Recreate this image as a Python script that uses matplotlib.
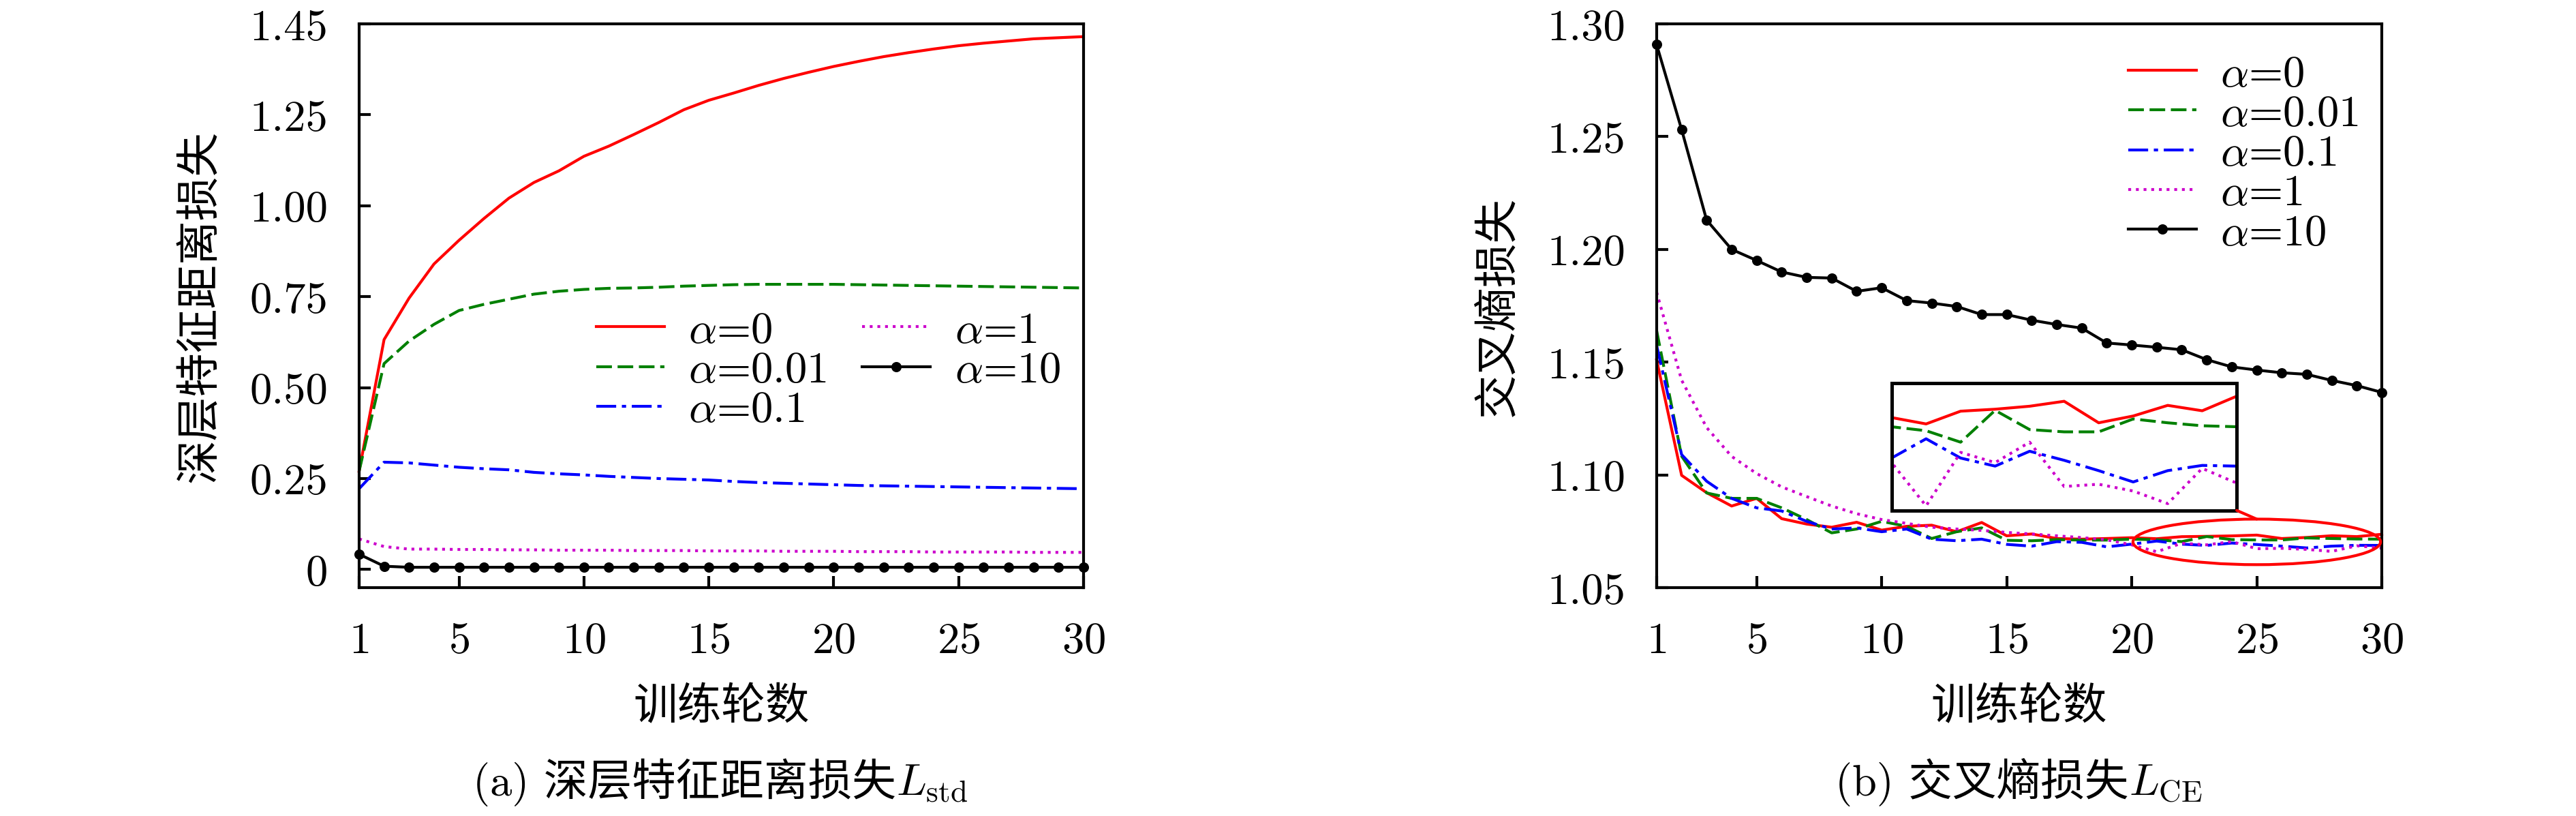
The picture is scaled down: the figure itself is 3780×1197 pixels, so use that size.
import matplotlib
matplotlib.use("Agg")
import matplotlib.pyplot as plt
from matplotlib.patches import Ellipse, ConnectionPatch

plt.rcParams['font.family'] = ['cmr10', 'Noto Sans CJK SC', 'DejaVu Sans']
plt.rcParams['mathtext.fontset'] = 'cm'
plt.rcParams['axes.formatter.use_mathtext'] = True
plt.rcParams['font.size'] = 15.5

epochs = list(range(1, 31))
labels = [r'$\alpha$=0', r'$\alpha$=0.01', r'$\alpha$=0.1', r'$\alpha$=1', r'$\alpha$=10']

# (a) deep feature distance loss
std_a0 = [0.27, 0.632, 0.746, 0.840, 0.905, 0.965, 1.021, 1.064, 1.096, 1.136,
          1.164, 1.196, 1.229, 1.264, 1.290, 1.310, 1.331, 1.350, 1.367, 1.383,
          1.397, 1.410, 1.421, 1.431, 1.440, 1.447, 1.453, 1.459, 1.462, 1.465]
std_a001 = [0.27, 0.566, 0.628, 0.674, 0.712, 0.729, 0.743, 0.757, 0.765, 0.770,
            0.773, 0.774, 0.776, 0.779, 0.781, 0.783, 0.784, 0.784, 0.784, 0.784,
            0.783, 0.782, 0.781, 0.780, 0.779, 0.778, 0.777, 0.776, 0.775, 0.774]
std_a01 = [0.222, 0.295, 0.293, 0.287, 0.281, 0.277, 0.274, 0.267, 0.263, 0.260,
           0.256, 0.253, 0.250, 0.248, 0.246, 0.242, 0.239, 0.237, 0.235, 0.233,
           0.231, 0.230, 0.229, 0.228, 0.227, 0.226, 0.225, 0.224, 0.223, 0.222]
std_a1 = [0.084, 0.063, 0.056, 0.056, 0.055, 0.055, 0.054, 0.054, 0.053, 0.053,
          0.053, 0.052, 0.052, 0.052, 0.051, 0.051, 0.051, 0.050, 0.050, 0.050,
          0.049, 0.049, 0.049, 0.048, 0.048, 0.048, 0.048, 0.047, 0.047, 0.047]
std_a10 = [0.042, 0.009, 0.006, 0.006, 0.006, 0.006, 0.006, 0.006, 0.006, 0.006,
           0.006, 0.006, 0.006, 0.006, 0.006, 0.006, 0.006, 0.006, 0.006, 0.006,
           0.006, 0.006, 0.006, 0.006, 0.006, 0.006, 0.006, 0.006, 0.006, 0.006]
std_yticks = [0, 0.25, 0.5, 0.75, 1.0, 1.25, 1.5]
std_yticklabels = ['0', '0.25', '0.50', '0.75', '1.00', '1.25', '1.45']

# (b) cross entropy loss
ce_a0 = [1.151, 1.0998, 1.0921, 1.0862, 1.0896, 1.0806, 1.0782, 1.0768, 1.0790, 1.0755,
         1.0772, 1.0777, 1.0748, 1.0789, 1.0730, 1.0738, 1.0718, 1.0715, 1.0718, 1.07216,
         1.07171, 1.07261, 1.07275, 1.07296, 1.07331, 1.07179, 1.07227, 1.07302, 1.07264, 1.07367]
ce_a001 = [1.164, 1.1083, 1.0920, 1.0896, 1.0896, 1.0854, 1.0802, 1.0743, 1.0760, 1.0794,
           1.0772, 1.0718, 1.0748, 1.0765, 1.0710, 1.0708, 1.0713, 1.0711, 1.0711, 1.07151,
           1.07123, 1.07042, 1.07267, 1.07131, 1.07115, 1.07115, 1.07206, 1.07179, 1.07158, 1.07151]
ce_a01 = [1.1574, 1.109, 1.0972, 1.0896, 1.0854, 1.0840, 1.0794, 1.0760, 1.0765, 1.0748,
          1.0760, 1.0715, 1.0708, 1.0715, 1.0692, 1.0684, 1.0704, 1.0701, 1.0681, 1.06930,
          1.07066, 1.06930, 1.06873, 1.06978, 1.06914, 1.06841, 1.06761, 1.06841, 1.06878, 1.06873]
ce_a1 = [1.181, 1.142, 1.121, 1.1082, 1.1006, 1.0947, 1.0904, 1.0862, 1.0828, 1.0802,
         1.0785, 1.0768, 1.0760, 1.0754, 1.0745, 1.0738, 1.0730, 1.0722, 1.0712, 1.06898,
         1.06592, 1.06970, 1.06898, 1.07042, 1.06729, 1.06745, 1.06697, 1.06608, 1.06857, 1.06753]
ce_a10 = [1.2908, 1.2531, 1.2130, 1.2000, 1.1951, 1.1900, 1.1876, 1.1873, 1.1814, 1.1830,
          1.1773, 1.1762, 1.1747, 1.1711, 1.1711, 1.1686, 1.1667, 1.1651, 1.1585, 1.1576,
          1.1566, 1.1555, 1.1511, 1.1479, 1.1465, 1.1453, 1.1446, 1.1419, 1.1396, 1.1366]
ce_yticks = [1.05, 1.10, 1.15, 1.20, 1.25, 1.30]

xticks = [1, 5, 10, 15, 20, 25, 30]

styles = [dict(color='#ff0000', ls='-'),
          dict(color='#008000', ls=(0, (5.5, 2))),
          dict(color='#0000ff', ls=(0, (7, 2, 1.5, 2))),
          dict(color='#cc00cc', ls=(0, (1, 1.7))),
          dict(color='black', ls='-', marker='o', ms=2.6)]


def style_axes(ax):
    for s in ax.spines.values():
        s.set_linewidth(1.0)
    ax.tick_params(direction='in', length=4, width=1.0, top=False, right=False)
    ax.tick_params(axis='x', pad=12)
    ax.tick_params(axis='y', pad=11)
    ax.set_xlim(1, 30)
    ax.set_xticks(xticks)
    ax.set_xlabel('训练轮数', labelpad=9)


def caption(fig, xc, y, zh, math):
    # Chinese part as normal text, symbol part as mathtext, centred together
    t1 = fig.text(0, y, zh, ha='left', va='baseline')
    t2 = fig.text(0, y, math, ha='left', va='baseline')
    r = fig.canvas.get_renderer()
    W = fig.bbox.width
    w1 = t1.get_window_extent(r).width
    w2 = t2.get_window_extent(r).width
    left = xc * W - (w1 + w2) / 2
    t1.set_x(left / W)
    t2.set_x((left + w1) / W)


fig = plt.figure(figsize=(12.6, 3.99333), dpi=300)

ax1 = fig.add_axes([0.1394, 0.2796, 0.2812, 0.6903])
for ys, lab, st in zip([std_a0, std_a001, std_a01, std_a1, std_a10], labels, styles):
    ax1.plot(epochs, ys, lw=1.0, label=lab, clip_on=False, **st)
style_axes(ax1)
ax1.set_ylim(-0.05, 1.5)
ax1.set_yticks(std_yticks)
ax1.set_yticklabels(std_yticklabels)
ax1.set_ylabel('深层特征距离损失', labelpad=10)
ax1.legend(ncol=2, loc='upper left', bbox_to_anchor=(0.327, 0.49), frameon=False,
           borderpad=0, borderaxespad=0, handlelength=1.55, handletextpad=0.55,
           labelspacing=0.0, columnspacing=0.8)

ax2 = fig.add_axes([0.6431, 0.2796, 0.2815, 0.6903])
for ys, lab, st in zip([ce_a0, ce_a001, ce_a01, ce_a1, ce_a10], labels, styles):
    ax2.plot(epochs, ys, lw=1.0, label=lab, clip_on=False, **st)
style_axes(ax2)
ax2.set_ylim(1.05, 1.30)
ax2.set_yticks(ce_yticks)
ax2.set_yticklabels(['%.2f' % v for v in ce_yticks])
ax2.set_ylabel('交叉熵损失', labelpad=10)
ax2.legend(loc='upper left', bbox_to_anchor=(0.650, 0.945), frameon=False,
           borderpad=0, borderaxespad=0, handlelength=1.55, handletextpad=0.55,
           labelspacing=0.0)

# zoomed inset of epochs 20-30
ins = ax2.inset_axes([0.324, 0.137, 0.476, 0.226])
for ys, st in zip([ce_a0, ce_a001, ce_a01, ce_a1], styles[:4]):
    ins.plot(epochs, ys, lw=1.0, **st)
ins.set_xlim(20, 30)
ins.set_ylim(1.0656, 1.0746)
ins.set_xticks([])
ins.set_yticks([])
for s in ins.spines.values():
    s.set_linewidth(1.2)

ax2.add_patch(Ellipse((25, 1.0703), 9.9, 0.0202, fill=False, ec='#ff0000', lw=1.0,
                      clip_on=False, zorder=5))
con = ConnectionPatch(xyA=(1, 0), coordsA=ins.transAxes, xyB=(25, 1.0804),
                      coordsB=ax2.transData, color='#ff0000', lw=1.0)
fig.add_artist(con)

caption(fig, 0.2796, 0.026, '(a) 深层特征距离损失', r'$L_{\rm std}$')
caption(fig, 0.7838, 0.026, '(b) 交叉熵损失', r'$L_{\rm CE}$')

fig.savefig('out.png', dpi=300, facecolor='white')
